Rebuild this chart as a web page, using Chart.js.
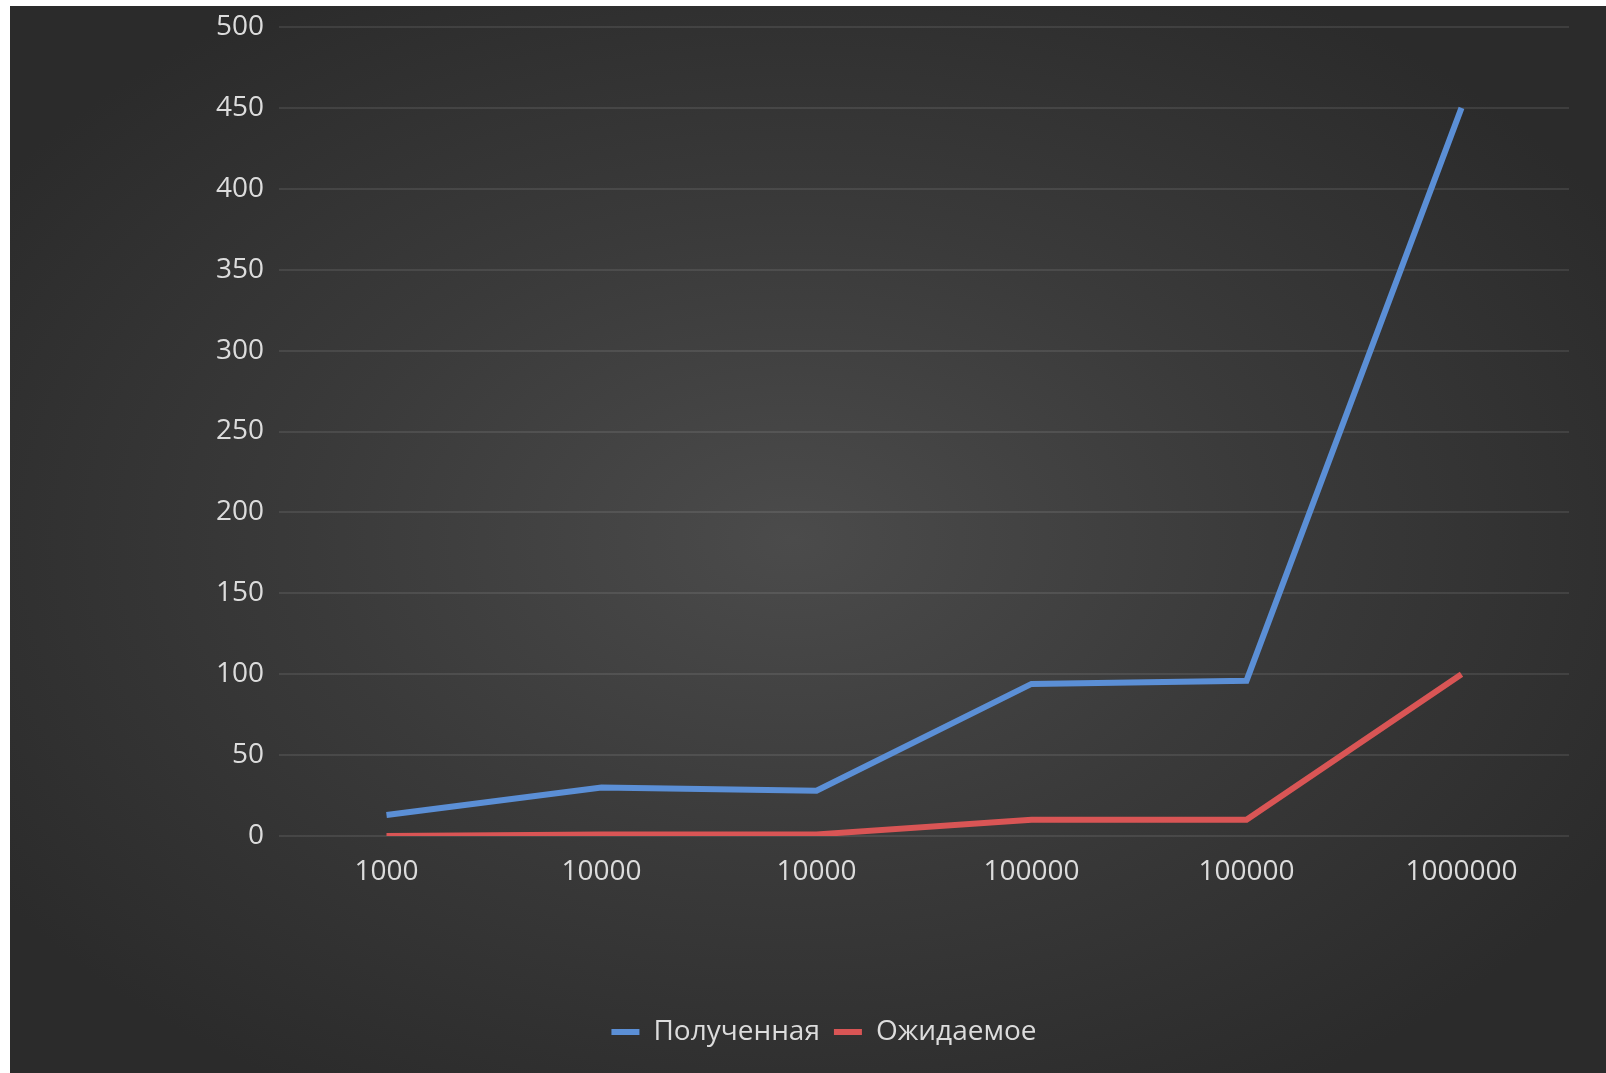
<!DOCTYPE html>
<html>
<head>
<meta charset="utf-8">
<script src="https://cdn.jsdelivr.net/npm/chart.js@4/dist/chart.umd.min.js"></script>
<style>
    html, body { margin: 0; padding: 0; background: #fff; overflow: hidden; }
    #wrap {
        position: absolute;
        left: 10px; top: 6px;
        width: 1596px; height: 1067px;
        background: radial-gradient(ellipse 60% 60% at 49% 50%, #4b4b4b 0%, #3a3a3a 50%, #2b2b2b 100%);
    }
    #chart { display: block; }
</style>
</head>
<body>
<div id="wrap"><canvas id="chart" width="1596" height="1067"></canvas></div>
<script>
const categories = ['1000', '10000', '10000', '100000', '100000', '1000000'];
const received = [13, 30, 28, 94, 96, 450];
const expected = [0, 1, 1, 10, 10, 100];
const seriesNames = ['Полученная', 'Ожидаемое'];

const textColor = '#dcdcdc';
const font = { family: 'Open Sans', size: 28 };

new Chart(document.getElementById('chart'), {
    type: 'line',
    data: {
        labels: categories,
        datasets: [
            {
                label: seriesNames[0],
                data: received,
                borderColor: '#5b8fd6',
                backgroundColor: '#5b8fd6',
                borderWidth: 6,
                pointRadius: 0,
                tension: 0
            },
            {
                label: seriesNames[1],
                data: expected,
                borderColor: '#d95555',
                backgroundColor: '#d95555',
                borderWidth: 6,
                pointRadius: 0,
                tension: 0
            }
        ]
    },
    options: {
        responsive: false,
        animation: false,
        devicePixelRatio: 1,
        // left/right padding also centres the legend where the original has it
        layout: { padding: { top: 21, right: 37, bottom: 17, left: 69 } },
        plugins: {
            tooltip: { enabled: false },
            legend: {
                position: 'bottom',
                labels: {
                    color: textColor,
                    font: font,
                    usePointStyle: true,
                    pointStyle: 'line',
                    pointStyleWidth: 28,
                    padding: 14
                }
            }
        },
        scales: {
            x: {
                offset: true,
                grid: { display: false },
                border: { display: false },
                ticks: {
                    color: textColor,
                    font: font,
                    padding: 11,
                    maxRotation: 0
                },
                afterFit: s => { s.height = 168; }
            },
            y: {
                min: 0,
                max: 500,
                grid: { color: 'rgba(255,255,255,0.09)', lineWidth: 2, drawTicks: false },
                border: { display: false },
                ticks: {
                    stepSize: 50,
                    color: textColor,
                    font: font,
                    padding: 15
                },
                afterFit: s => { s.width = 200; s.paddingTop = 0; }
            }
        }
    }
});
</script>
</body>
</html>
